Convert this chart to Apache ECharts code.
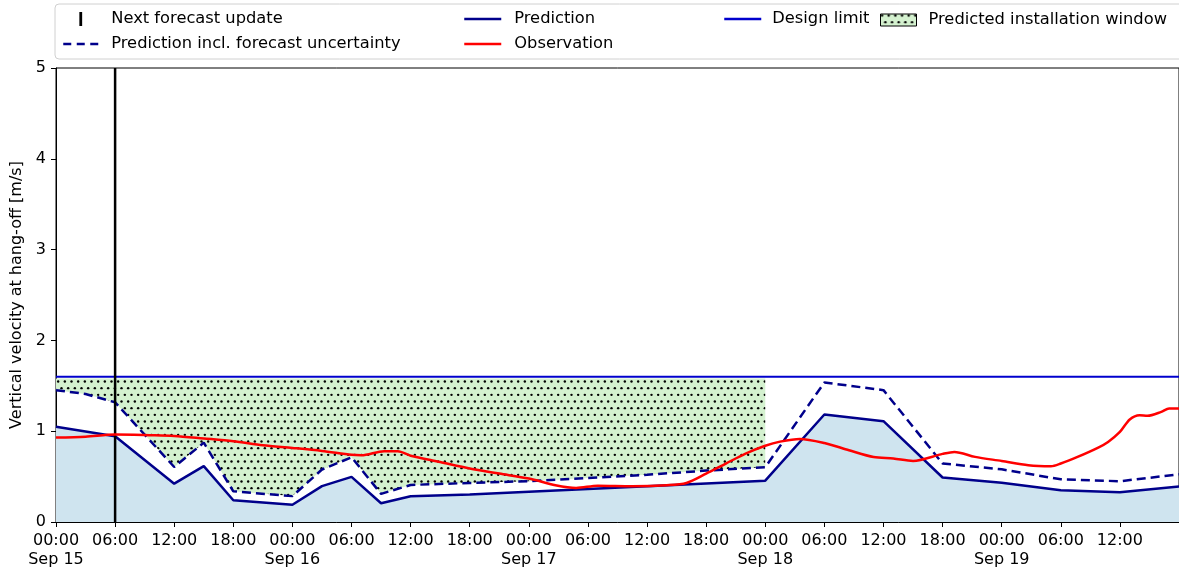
<!DOCTYPE html>
<html>
<head>
<meta charset="utf-8">
<script src="https://cdn.jsdelivr.net/npm/echarts@6/dist/echarts.min.js"></script>
<style>
  html, body { margin: 0; padding: 0; background: #fff; }
  #chart { width: 1179px; height: 570px; }
</style>
</head>
<body>
<div id="chart"></div>
<script>
// hours counted from Sep 15 00:00
var axisEndHour = 114;
var forecastUpdateHour = 6;
var designLimit = 1.6;
var windowTop = 1.58;
var windowEndHour = 72;

// Prediction (solid)
var predHours  = [0, 6, 12, 15, 18, 24, 27, 30, 33, 36, 42, 48, 54, 60, 66, 72, 78, 84, 90, 96, 102, 108, 114];
var predValues = [1.05, 0.945, 0.422, 0.616, 0.24, 0.19, 0.395, 0.497, 0.207, 0.283, 0.302, 0.334, 0.363, 0.393, 0.425, 0.455, 1.184, 1.11, 0.49, 0.433, 0.35, 0.328, 0.39];

// Prediction incl. forecast uncertainty (dashed)
var uncHours  = [0, 3, 6, 12, 15, 18, 24, 27, 30, 33, 36, 42, 48, 54, 60, 66, 72, 78, 84, 90, 96, 102, 108, 114];
var uncValues = [1.452, 1.41, 1.318, 0.606, 0.874, 0.338, 0.285, 0.578, 0.713, 0.31, 0.408, 0.43, 0.45, 0.484, 0.52, 0.566, 0.603, 1.537, 1.452, 0.644, 0.58, 0.47, 0.449, 0.525];

// Observation (red)
var obsHours  = [0, 3, 6, 9.5, 12, 15, 18, 21, 24, 27, 30, 31, 33.3, 34.7, 36, 39, 42, 45, 48, 50.7, 52.8, 55, 58.5, 62, 64, 66, 68, 70, 72, 73.5, 75.5, 78, 80.5, 83, 85, 87, 90, 91.2, 93.3, 96, 98.7, 101, 102, 103.7, 105.8, 106.8, 108, 109, 110, 110.8, 112.2, 113, 114];
var obsValues = [0.93, 0.94, 0.963, 0.956, 0.948, 0.92, 0.89, 0.846, 0.816, 0.783, 0.74, 0.735, 0.78, 0.78, 0.73, 0.66, 0.589, 0.533, 0.478, 0.405, 0.375, 0.4, 0.394, 0.405, 0.43, 0.533, 0.644, 0.754, 0.84, 0.885, 0.915, 0.87, 0.79, 0.715, 0.699, 0.672, 0.75, 0.772, 0.717, 0.672, 0.625, 0.614, 0.644, 0.717, 0.82, 0.882, 0.992, 1.129, 1.176, 1.17, 1.213, 1.25, 1.25];

var yTicks = [0, 1, 2, 3, 4, 5];
var dayNames = ['Sep 15', 'Sep 16', 'Sep 17', 'Sep 18', 'Sep 19'];

function pairs(xs, ys) {
  var out = [];
  for (var i = 0; i < xs.length; i++) out.push([xs[i], ys[i]]);
  return out;
}

// lower edge of the installation window = dashed line up to windowEndHour
var winEdge = [];
for (var i = 0; i < uncHours.length; i++) {
  if (uncHours[i] <= windowEndHour) winEdge.push([uncHours[i], uncValues[i]]);
}

// staggered dot hatch like matplotlib '..' (spacing 20/3 px)
var tile = document.createElement('canvas');
tile.width = 20; tile.height = 40;
var ctx = tile.getContext('2d');
ctx.fillStyle = '#d4f1cf';
ctx.fillRect(0, 0, 20, 40);
ctx.fillStyle = '#000';
var step = 20 / 3;
for (var r = 0; r < 7; r++) {
  for (var c = -1; c < 4; c++) {
    var cx = c * step + (r % 2 ? step / 2 : 0) + 1.5;
    var cy = r * step + 1.5;
    ctx.beginPath();
    ctx.arc(cx, cy, 1.2, 0, Math.PI * 2);
    ctx.fill();
  }
}
var hatch = { image: tile, repeat: 'repeat' };

var font = 'DejaVu Sans';
var navy = '#00008b';

function pad(n) { return (n < 10 ? '0' : '') + n; }

function legendText(left) {
  return { fontFamily: font, fontSize: 16.3, lineHeight: 14, color: '#000', padding: [0, 0, 0, left] };
}

var legendBase = {
  orient: 'vertical',
  top: 6,
  itemHeight: 14,
  itemGap: 9,
  selectedMode: false
};

function lineIcon(name, color, dash) {
  return {
    name: name, icon: 'line',
    itemStyle: { color: color, borderColor: color, borderWidth: 2.5, borderType: dash || 'solid' }
  };
}

var option = {
  animation: false,
  backgroundColor: '#fff',
  graphic: [{
    type: 'rect',
    z: 0,
    shape: { x: 55, y: 4, width: 1200, height: 55, r: 4 },
    style: { fill: '#fff', stroke: '#d0d0d0', lineWidth: 1 }
  }],
  legend: [
    Object.assign({}, legendBase, {
      left: 57, itemWidth: 35,
      textStyle: legendText(8),
      data: [
        { name: 'Next forecast update', icon: 'path://M0,0L3,0L3,15L0,15Z', itemStyle: { color: '#000' } },
        lineIcon('Prediction incl. forecast uncertainty', navy, [8, 5.5])
      ]
    }),
    Object.assign({}, legendBase, {
      left: 458, itemWidth: 37,
      textStyle: legendText(8),
      data: [lineIcon('Prediction', navy), lineIcon('Observation', '#ff0000')]
    }),
    Object.assign({}, legendBase, {
      left: 718, itemWidth: 37,
      textStyle: legendText(6),
      data: [lineIcon('Design limit', '#0000cd')]
    }),
    Object.assign({}, legendBase, {
      left: 875, top: 7, itemWidth: 36, itemHeight: 12,
      textStyle: legendText(7),
      data: [{ name: 'Predicted installation window', icon: 'rect',
               itemStyle: { color: hatch, borderColor: '#000', borderWidth: 1 } }]
    })
  ],
  grid: {
    left: 56, right: -2, top: 68, bottom: 48,
    show: true, borderColor: '#000', borderWidth: 1, backgroundColor: 'transparent'
  },
  xAxis: {
    type: 'value',
    min: 0, max: axisEndHour, interval: 6,
    axisLine: { lineStyle: { color: '#000', width: 1 } },
    axisTick: { length: 5, lineStyle: { color: '#000' } },
    splitLine: { show: false },
    axisLabel: {
      showMaxLabel: false,
      margin: 9,
      fontFamily: font, fontSize: 16, color: '#000', lineHeight: 19,
      formatter: function (v) {
        var h = v % 24;
        if (h === 0) return '00:00\n' + dayNames[v / 24];
        return pad(h) + ':00';
      }
    }
  },
  yAxis: {
    type: 'value',
    min: yTicks[0], max: yTicks[yTicks.length - 1], interval: 1,
    name: 'Vertical velocity at hang-off [m/s]',
    nameLocation: 'middle', nameGap: 28,
    nameTextStyle: { fontFamily: font, fontSize: 16, color: '#000' },
    axisLine: { show: true, lineStyle: { color: '#000', width: 1 } },
    axisTick: { show: true, length: 5, lineStyle: { color: '#000' } },
    splitLine: { show: false },
    axisLabel: { margin: 10, fontFamily: font, fontSize: 16, color: '#000' }
  },
  series: [
    {
      name: 'Predicted installation window', type: 'custom', data: winEdge,
      silent: true, z: 1, clip: true,
      itemStyle: { color: '#d4f1cf' },
      renderItem: function (params, api) {
        if (params.dataIndex !== 0) return null;
        var pts = [];
        pts.push(api.coord([winEdge[0][0], windowTop]));
        pts.push(api.coord([winEdge[winEdge.length - 1][0], windowTop]));
        for (var k = winEdge.length - 1; k >= 0; k--) pts.push(api.coord(winEdge[k]));
        return { type: 'polygon', shape: { points: pts }, style: { fill: hatch } };
      }
    },
    {
      name: 'Prediction', type: 'line', data: pairs(predHours, predValues),
      symbol: 'none', color: navy,
      lineStyle: { color: navy, width: 2.5 },
      areaStyle: { color: '#cfe4ef', opacity: 1 }, z: 2
    },
    {
      name: 'Prediction incl. forecast uncertainty', type: 'line', data: pairs(uncHours, uncValues),
      symbol: 'none', color: navy,
      lineStyle: { color: navy, width: 2.5, type: [9, 5] }, z: 3
    },
    {
      name: 'Design limit', type: 'line', data: [[0, designLimit], [axisEndHour, designLimit]],
      symbol: 'none', color: '#0000cd',
      lineStyle: { color: '#0000cd', width: 2 }, z: 3
    },
    {
      name: 'Next forecast update', type: 'line',
      data: [[forecastUpdateHour, yTicks[0]], [forecastUpdateHour, yTicks[yTicks.length - 1]]],
      symbol: 'none', color: '#000',
      lineStyle: { color: '#000', width: 2.5 }, z: 4
    },
    {
      name: 'Observation', type: 'line', data: pairs(obsHours, obsValues),
      symbol: 'none', color: '#ff0000', smooth: 0.3,
      lineStyle: { color: '#ff0000', width: 2.5 }, z: 5
    }
  ]
};

var myChart = echarts.init(document.getElementById('chart'));
myChart.setOption(option);
</script>
</body>
</html>
